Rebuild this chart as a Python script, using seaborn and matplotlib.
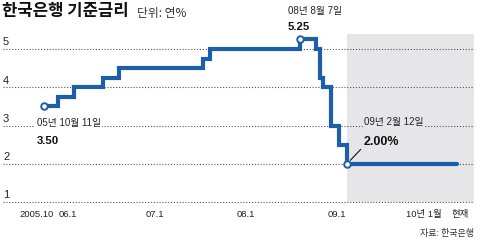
import matplotlib
matplotlib.use("Agg")
import matplotlib.pyplot as plt
import matplotlib.transforms as mtrans
import seaborn as sns
import pandas as pd

# ---- data ----
change_dates = ["2005-10-11", "2005-12-08", "2006-02-09", "2006-06-08", "2006-08-10",
                "2007-07-12", "2007-08-09", "2008-08-07", "2008-10-09", "2008-10-27",
                "2008-11-07", "2008-12-11", "2009-01-09", "2009-02-12", "2010-05-01"]
rates = [3.50, 3.75, 4.00, 4.25, 4.50, 4.75, 5.00, 5.25, 5.00, 4.25, 4.00, 3.00, 2.50, 2.00, 2.00]

tick_dates = ["2005-10-01", "2006-01-01", "2006-07-01", "2007-01-01", "2007-07-01",
              "2008-01-01", "2008-07-01", "2009-01-01", "2009-07-01", "2010-01-01", "2010-05-01"]
tick_labels = ["2005.10", "06.1", "", "07.1", "", "08.1", "", "09.1", "", "10년 1월", "현재"]

y_values = [1, 2, 3, 4, 5]
y_labels = ["1", "2", "3", "4", "5"]

marker_dates = ["2005-10-11", "2008-08-07", "2009-02-12"]
marker_rates = [3.50, 5.25, 2.00]
marker_dates_text = ["05년 10월 11일", "08년 8월 7일", "09년 2월 12일"]
marker_value_text = ["3.50", "5.25", "2.00%"]

shade_start = "2009-02-12"
shade_top = 5.4

title = "한국은행 기준금리"
unit = "단위: 연%"
source = "자료: 한국은행"

# ---- style ----
sns.set_style("white")
fam = ["Liberation Sans", "Noto Sans CJK KR", "DejaVu Sans"]
kfam = ["Noto Sans CJK KR", "DejaVu Sans"]
plt.rcParams["font.family"] = fam

BLUE = "#1c5ea8"
GREY = "#e6e6e8"
GRID = "#555555"

df = pd.DataFrame({"date": pd.to_datetime(change_dates), "rate": rates})
mk = pd.DataFrame({"date": pd.to_datetime(marker_dates), "rate": marker_rates})

W, H = 480, 242
fig = plt.figure(figsize=(W / 100, H / 100), dpi=100)
ylo, yhi = 0.97, 5.6
ax = fig.add_axes([3 / W, 0.1605, 471 / W, 0.7318])

xl = pd.Timestamp("2005-04-30")
xr = pd.Timestamp("2010-07-08")
ax.set_xlim(xl, xr)
ax.set_ylim(ylo, yhi)

ax.fill_between([pd.Timestamp(shade_start), xr], 1, shade_top, color=GREY, lw=0, zorder=0)

sns.lineplot(data=df, x="date", y="rate", drawstyle="steps-post", color=BLUE,
             linewidth=3.0, ax=ax, zorder=3, solid_joinstyle="miter")
sns.scatterplot(data=mk, x="date", y="rate", ax=ax, s=22, facecolor="white",
                edgecolor=BLUE, linewidth=1.4, zorder=4)

# grid
ax.set_yticks(y_values)
ax.set_yticklabels([])
ax.tick_params(axis="y", length=0)
ax.grid(axis="y", linestyle=(0, (1, 1.6)), color=GRID, linewidth=0.8)
ax.grid(axis="x", visible=False)
ax.set_axisbelow(True)
for s in ax.spines.values():
    s.set_visible(False)
for yv, lab in zip(y_values, y_labels):
    ax.annotate(lab, xy=(0, yv), xycoords=("axes fraction", "data"), xytext=(0, 1.2),
                textcoords="offset points", ha="left", va="bottom", fontsize=8, color="#222")

# x ticks
ax.set_xticks(pd.to_datetime(tick_dates))
ax.set_xticklabels(tick_labels)
ax.tick_params(axis="x", direction="in", length=3.8, width=0.8, color="#333", pad=5,
               labelsize=6.8, labelcolor="#222")
shifts = {"2005.10": -5, "06.1": 4, "10년 1월": -3, "현재": 3}
for t in ax.get_xticklabels():
    s = shifts.get(t.get_text())
    if s:
        t.set_transform(t.get_transform() + mtrans.ScaledTranslation(s / 100, 0, fig.dpi_scale_trans))
ax.set_xlabel("")
ax.set_ylabel("")

# annotations (offsets in px converted to points)
p = 0.72
offs = [(-7, -16.5, -34.5, 8.2), (-12, 28, 12, 8.2), (17, 42, 22, 9.0)]
for i, (d, r) in enumerate(zip(pd.to_datetime(marker_dates), marker_rates)):
    dx, dy1, dy2, vs = offs[i]
    fc = GREY if i == 2 else "white"
    ax.annotate(marker_dates_text[i], xy=(d, r), xytext=(dx * p, dy1 * p), textcoords="offset points",
                ha="left", va="center", fontsize=7, color="#222", zorder=5,
                bbox=dict(fc=fc, ec="none", pad=1.0) if i != 1 else None)
    kw = {}
    if i == 2:
        kw = dict(arrowprops=dict(arrowstyle="-", color="#111", lw=0.8, shrinkA=0, shrinkB=3.5,
                                  relpos=(0, 0.15)))
    ax.annotate(marker_value_text[i], xy=(d, r), xytext=(dx * p, dy2 * p), textcoords="offset points",
                ha="left", va="center", fontsize=vs, fontweight="bold", color="#111", zorder=5, **kw)

fig.text(2 / W, 1 - 2 / H, title, fontsize=12, fontweight="bold", family=kfam, va="top", ha="left", color="#111")
fig.text(137 / W, 1 - 7 / H, unit, fontsize=8.5, family=kfam, va="top", ha="left", color="#333")
fig.text(474 / W, 1 - 238 / H, source, fontsize=6.5, family=kfam, va="bottom", ha="right", color="#333")

fig.savefig("out.png", dpi=100)
